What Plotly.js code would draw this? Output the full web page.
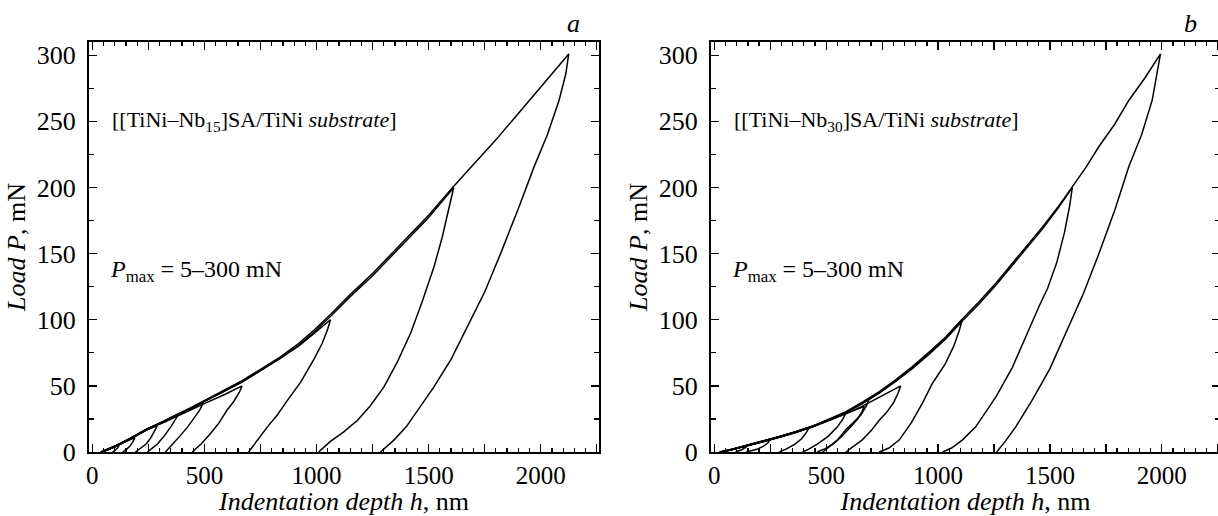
<!DOCTYPE html>
<html><head><meta charset="utf-8">
<script src="https://cdn.plot.ly/plotly-3.0.1.min.js"></script>
<style>html,body{margin:0;padding:0;overflow:hidden;background:#fff}#chart{width:1222px;height:516px}</style>
</head><body><div id="chart"></div>
<script>
// ---------- Panel a: [[TiNi–Nb15]SA/TiNi substrate] ----------
const a300H = [36, 100, 170, 244, 320, 393, 450, 512, 590, 668, 750, 839, 920, 988, 1062, 1150, 1250, 1375, 1500, 1612, 1700, 1800, 1900, 2000, 2060, 2125, 2112, 2082, 2030, 1969, 1900, 1821, 1750, 1673, 1600, 1523, 1447, 1440, 1400, 1345, 1310, 1285];
const a300P = [0, 4.5, 10.5, 17.5, 23.5, 29.5, 34.5, 40, 47, 54, 62.5, 72, 82, 92, 104, 119, 135, 157, 179, 201, 217, 236, 256, 276, 288, 301, 286, 266, 240, 215, 184, 150, 121, 95, 70, 49, 31, 28.5, 19, 9, 4, 0];
const a200H = [40, 100, 170, 244, 320, 393, 450, 512, 590, 668, 750, 839, 920, 988, 1062, 1150, 1250, 1375, 1500, 1612, 1590, 1560, 1524, 1470, 1420, 1360, 1300, 1240, 1183, 1120, 1062, 1009];
const a200P = [0, 4, 10, 17, 23, 28.8, 33.8, 39.2, 46, 52.8, 61.5, 70.8, 80.5, 90.5, 102.5, 117.5, 133.3, 155, 177.3, 200, 183, 162, 140, 113, 90, 68, 49, 35, 24, 15, 8, 0];
const a100H = [40, 100, 170, 244, 320, 393, 450, 512, 590, 668, 750, 839, 920, 988, 1062, 1050, 1025, 988, 930, 870, 825, 781, 740, 697];
const a100P = [0, 4, 10, 17.3, 23.3, 29, 34, 39.5, 46.5, 53, 61.5, 71, 80, 89.5, 100, 93, 82, 70, 53, 39, 28, 19, 10, 0];
const a50H = [40, 100, 170, 244, 320, 393, 450, 512, 590, 668, 655, 630, 602, 565, 527, 485, 445];
const a50P = [0, 4, 10, 17, 22.5, 28, 32.5, 37.5, 43.5, 50, 45, 38, 32, 22, 14, 6, 0];
const a40H = [42, 100, 170, 244, 320, 393, 450, 497, 480, 455, 425, 390, 360, 326];
const a40P = [0, 4.2, 10.3, 17.2, 23, 28.8, 33.5, 38, 32, 26, 19, 12, 6, 0];
const a30H = [42, 100, 170, 244, 320, 385, 372, 350, 320, 290, 265, 245];
const a30P = [0, 4.3, 10.4, 17.4, 23.2, 29, 25, 19, 12, 6, 2.5, 0];
const a20H = [44, 100, 170, 244, 290, 280, 262, 240, 215, 192];
const a20P = [0, 4.1, 10.2, 16.8, 20, 16.5, 11, 6, 2.5, 0];
const a10H = [45, 100, 150, 190, 182, 168, 152, 135];
const a10P = [0, 4.2, 8.5, 11, 8, 4.5, 2, 0];
const a5H = [46, 80, 120, 114, 104, 90];
const a5P = [0, 2.5, 5.5, 3.5, 1.5, 0];

// ---------- Panel b: [[TiNi–Nb30]SA/TiNi substrate] ----------
const b300H = [22, 80, 141, 215, 290, 365, 439, 515, 588, 660, 737, 810, 885, 960, 1034, 1108, 1183, 1260, 1332, 1400, 1466, 1535, 1600, 1660, 1719, 1790, 1853, 1925, 1994, 1980, 1957, 1910, 1853, 1790, 1719, 1650, 1571, 1500, 1420, 1380, 1347, 1300, 1262];
const b300P = [0, 2, 4.8, 8, 11.6, 15.5, 19.6, 25, 30.5, 37.5, 45.6, 54.5, 64.5, 75.5, 87, 100.5, 113.6, 128, 142.6, 156, 170, 185, 200.5, 215, 231, 248, 266, 283, 301, 288, 266, 240, 216, 183, 150, 120, 90, 63, 39, 28, 19, 8, 0];
const b200H = [25, 80, 141, 215, 290, 365, 439, 515, 588, 660, 737, 810, 885, 960, 1034, 1108, 1183, 1260, 1332, 1400, 1466, 1535, 1600, 1588, 1565, 1530, 1490, 1451, 1400, 1332, 1260, 1210, 1168, 1108, 1060, 1020];
const b200P = [0, 1.8, 4.5, 7.6, 11.2, 15, 19, 24.3, 29.8, 36.5, 44.5, 53.3, 63, 74, 85.5, 99, 112, 126.5, 141, 154.5, 168.5, 184, 200, 186, 166, 143, 124, 110, 90, 64, 42, 29, 19, 9, 3, 0];
const b100H = [25, 80, 141, 215, 290, 365, 439, 515, 588, 660, 737, 810, 885, 960, 1034, 1108, 1095, 1070, 1030, 975, 930, 880, 826, 780, 737];
const b100P = [0, 1.8, 4.6, 7.8, 11.3, 15.2, 19.3, 24.6, 30, 36.8, 44.8, 53.6, 63.5, 74.5, 86, 100, 92, 80, 66, 52, 37, 22, 9, 3, 0];
const b50H = [30, 80, 141, 215, 290, 365, 439, 515, 588, 660, 740, 833, 820, 800, 770, 737, 700, 660, 620, 588];
const b50P = [0, 1.8, 4.5, 7.6, 11, 14.8, 19, 24, 29, 34.5, 41.5, 50, 44, 37, 30, 24, 16, 9, 4, 0];
const b40H = [30, 80, 141, 215, 290, 365, 439, 515, 588, 640, 692, 680, 655, 620, 588, 550, 515, 484];
const b40P = [0, 1.9, 4.7, 7.9, 11.4, 15.3, 19.4, 24.6, 30, 35, 40, 35, 28, 22, 17, 9, 4, 0];
const b35H = [32, 80, 141, 215, 290, 365, 439, 515, 588, 670, 660, 640, 610, 570, 530, 495, 460];
const b35P = [0, 1.9, 4.6, 7.8, 11.2, 15, 19, 24, 29, 34.5, 30.5, 25, 19, 12, 6, 2.5, 0];
const b30H = [34, 80, 141, 215, 290, 365, 439, 515, 588, 575, 550, 510, 460, 420, 394];
const b30P = [0, 2, 4.8, 8, 11.5, 15.4, 19.5, 24.8, 29.5, 25, 19, 12, 6, 2, 0];
const b20H = [36, 80, 141, 215, 290, 365, 424, 412, 390, 360, 325, 290];
const b20P = [0, 2, 4.7, 7.9, 11.4, 15.2, 18.5, 15, 10, 6, 2.5, 0];
const b10H = [38, 80, 141, 200, 250, 240, 220, 190, 141];
const b10P = [0, 2, 4.7, 7.4, 9.5, 7, 4.5, 2, 0];
const b5H = [40, 80, 150, 140, 120, 95];
const b5P = [0, 2, 5, 3.5, 1.5, 0];

// ---------- Ticks and labels ----------
const xTickVals = [0, 250, 500, 750, 1000, 1250, 1500, 1750, 2000, 2250];
const xTickText = ['0', '', '500', '', '1000', '', '1500', '', '2000', ''];
const yTickVals = [0, 50, 100, 150, 200, 250, 300];
const yTickText = ['0', '50', '100', '150', '200', '250', '300'];
const xTitle = '<i>Indentation depth h</i>, nm';
const yTitle = '<i>Load P</i>, mN';
const sampleA = '[[TiNi–Nb<sub>15</sub>]SA/TiNi <i>substrate</i>]';
const sampleB = '[[TiNi–Nb<sub>30</sub>]SA/TiNi <i>substrate</i>]';
const pmaxText = '<i>P</i><sub>max</sub> = 5–300 mN';
const panelLabels = ['a', 'b'];

const FONT = 'Liberation Serif, Times New Roman, serif';
const seriesA = [[a300H, a300P], [a200H, a200P], [a100H, a100P], [a50H, a50P], [a40H, a40P], [a30H, a30P], [a20H, a20P], [a10H, a10P], [a5H, a5P]];
const seriesB = [[b300H, b300P], [b200H, b200P], [b100H, b100P], [b50H, b50P], [b40H, b40P], [b35H, b35P], [b30H, b30P], [b20H, b20P], [b10H, b10P], [b5H, b5P]];

const traces = [];
seriesA.forEach(s => traces.push({x: s[0], y: s[1], xaxis: 'x', yaxis: 'y', mode: 'lines', line: {color: '#000', width: 1.5}, showlegend: false, hoverinfo: 'skip'}));
seriesB.forEach(s => traces.push({x: s[0], y: s[1], xaxis: 'x2', yaxis: 'y2', mode: 'lines', line: {color: '#000', width: 1.5}, showlegend: false, hoverinfo: 'skip'}));

function xAxis(domain, anchor) {
  return {
    domain: domain, anchor: anchor, range: [-15, 2260],
    tickmode: 'array', tickvals: xTickVals, ticktext: xTickText,
    ticks: 'inside', ticklen: 8, tickwidth: 1.3, tickcolor: '#000',
    minor: {dtick: 50, tick0: 0, ticks: 'inside', ticklen: 4, tickwidth: 1.2, tickcolor: '#000', showgrid: false},
    showline: true, linewidth: 2, linecolor: '#000', mirror: 'allticks',
    showgrid: false, zeroline: false, ticklabelstandoff: 0,
    tickfont: {family: FONT, size: 25, color: '#000'},
    title: {text: xTitle, font: {family: FONT, size: 26, color: '#000'}, standoff: 5}
  };
}
function yAxis(anchor) {
  return {
    domain: [0, 1], anchor: anchor, range: [0, 310],
    tickmode: 'array', tickvals: yTickVals, ticktext: yTickText,
    ticks: 'inside', ticklen: 8, tickwidth: 1.3, tickcolor: '#000',
    minor: {dtick: 25, tick0: 0, ticks: 'inside', ticklen: 5, tickwidth: 1.2, tickcolor: '#000', showgrid: false},
    showline: true, linewidth: 2, linecolor: '#000', mirror: 'allticks',
    showgrid: false, zeroline: false, ticklabelstandoff: 6,
    tickfont: {family: FONT, size: 26, color: '#000'},
    title: {text: yTitle, font: {family: FONT, size: 26, color: '#000'}, standoff: 4}
  };
}

const W = 1222;
const layout = {
  width: W, height: 516,
  margin: {l: 0, r: 0, t: 42, b: 64, pad: 0},
  paper_bgcolor: '#fff', plot_bgcolor: '#fff',
  font: {family: FONT, color: '#000'},
  xaxis: xAxis([89 / W, 599 / W], 'y'),
  yaxis: yAxis('x'),
  xaxis2: xAxis([711 / W, 1220 / W], 'y2'),
  yaxis2: yAxis('x2'),
  annotations: [
    {xref: 'x', yref: 'y', x: 80, y: 250, text: sampleA, showarrow: false, xanchor: 'left', yanchor: 'middle', font: {family: FONT, size: 22, color: '#000'}},
    {xref: 'x2', yref: 'y2', x: 80, y: 250, text: sampleB, showarrow: false, xanchor: 'left', yanchor: 'middle', font: {family: FONT, size: 22, color: '#000'}},
    {xref: 'x', yref: 'y', x: 70, y: 137, text: pmaxText, showarrow: false, xanchor: 'left', yanchor: 'middle', font: {family: FONT, size: 24, color: '#000'}},
    {xref: 'x2', yref: 'y2', x: 70, y: 137, text: pmaxText, showarrow: false, xanchor: 'left', yanchor: 'middle', font: {family: FONT, size: 24, color: '#000'}},
    {xref: 'paper', yref: 'paper', x: 573 / W, y: 1.044, text: '<i>' + panelLabels[0] + '</i>', showarrow: false, xanchor: 'center', yanchor: 'middle', font: {family: FONT, size: 26, color: '#000'}},
    {xref: 'paper', yref: 'paper', x: 1190 / W, y: 1.044, text: '<i>' + panelLabels[1] + '</i>', showarrow: false, xanchor: 'center', yanchor: 'middle', font: {family: FONT, size: 26, color: '#000'}}
  ]
};
Plotly.newPlot('chart', traces, layout, {staticPlot: true, displayModeBar: false});
</script></body></html>
